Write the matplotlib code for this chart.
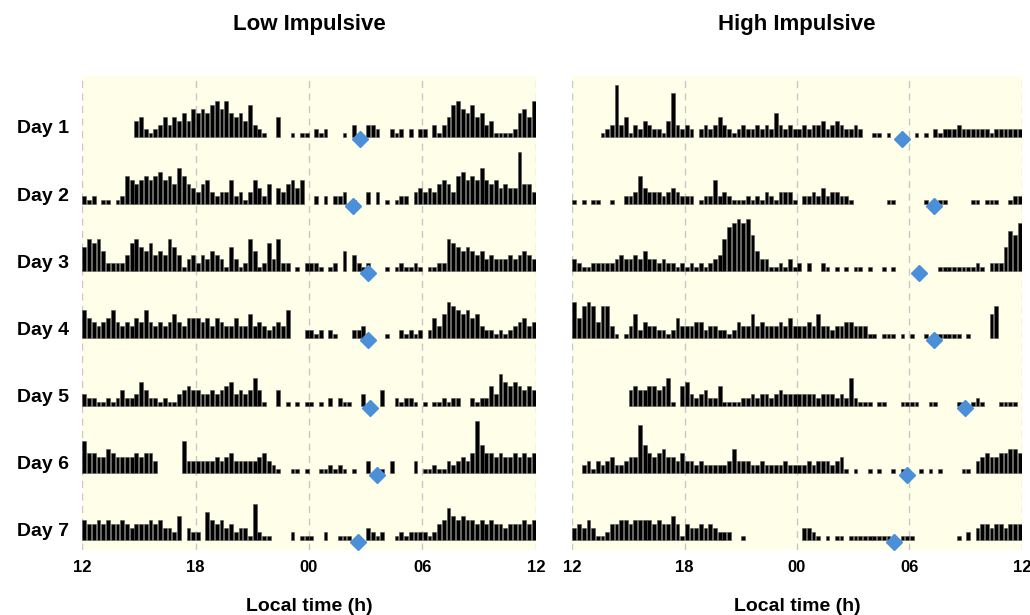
import matplotlib.pyplot as plt
import numpy as np

plt.rcParams['font.family'] = ['Liberation Sans', 'DejaVu Sans']

# --- data ---
# one character per 15-min bin, 96 bins from 12:00 to 12:00 (base-36 height, 1 unit ~ 4 px)
DAYS = ['Day 1', 'Day 2', 'Day 3', 'Day 4', 'Day 5', 'Day 6', 'Day 7']
TICK_POS = [0, 6, 12, 18, 24]
TICK_LABELS = ['12', '18', '00', '06', '12']

LOW_ACTIVITY = [
    "000000000004521235354647" "676897965648321005001011" "021200010300332002120202" "203135897685634111126759",
    "212011012765676786759754" "356323362313642504356460" "020202230100303010122034" "34356537867696564544d553",
    "687852222478657454864134" "243543163128512738220102" "221012050421200010121121" "011228765654534333434543",
    "754345743435474343464355" "545354335336343234370002" "212021000223100010021212" "025369876756322121234534",
    "322112124223642212113454" "433434563434741004010101" "101020211003000400212210" "101121220021225386565454",
    "855446544445455300000833" "333343453333345321001101" "001121210100300103000030" "11211323435d755454454545",
    "544545445434445453326032" "207545342331921100002011" "100200111000321200121222" "212458656554545443444545",
]
LOW_ONSET = [14.69, 14.30, 15.10, 15.13, 15.22, 15.57, 14.60]

HIGH_ACTIVITY = [
    "000000123d35132432214b32" "320232353212322323263232" "232334234322320011010000" "010102122232222221222222",
    "101011001002237433323432" "220122623211121213213331" "022324233221000000011000" "000100110000011011100122",
    "321122222343343533232212" "121212348bcdcd9533112131" "202002101010110100101000" "000000111111112102226a9c",
    "958984883101362433221253" "334423322124336343334353" "334363323344333110111010" "100101111110100006800000",
    "000000000000454455457105" "632342251111223233234333" "333323332327211101100011" "110011000011012100011110",
    "00231323422344c754564435" "332322222363332232222322" "223233323410100101001010" "001010100001103454455665",
    "343531124455455554544641" "433434322200100000000000" "033210101101111111110011" "100000000010203443443444",
]
HIGH_ONSET = [17.58, 19.32, 18.52, 19.32, 20.96, 17.85, 17.19]

ROW_GAP = 67.2
UNIT = 4.0


def draw_panel(ax, activity, onset, title, show_days):
    ax.set_facecolor('#FEFEE9')
    for d, row in enumerate(activity):
        base = (6 - d) * ROW_GAP + 10
        h = np.array([int(c, 36) for c in row]) * UNIT
        x = (np.arange(len(h)) + 0.5) * 0.25
        m = h > 0
        ax.bar(x[m], h[m], width=0.2, bottom=base, color='black',
               edgecolor='#555555', linewidth=0.4)
        ax.plot(onset[d], base - 2, 'D', color='#4A8FD8', markersize=8, zorder=5)
        if show_days:
            ax.text(-0.087, base + 8, DAYS[d], transform=ax.get_yaxis_transform(),
                    ha='center', va='center', fontsize=14, fontweight='bold')
    for t in TICK_POS:
        ax.axvline(t, color='#C8C8C8', linestyle=(0, (5, 4)), linewidth=1, zorder=0)
    ax.set_xlim(0, 24)
    ax.set_ylim(0, 474)
    ax.set_xticks(TICK_POS)
    ax.set_xticklabels(TICK_LABELS, fontsize=12, fontweight='bold')
    ax.tick_params(axis='x', length=0, pad=7)
    ax.set_yticks([])
    for s in ax.spines.values():
        s.set_visible(False)
    ax.set_xlabel('Local time (h)', fontsize=14, fontweight='bold', labelpad=17)
    ax.set_title(title, fontsize=16, fontweight='bold', pad=33)


fig = plt.figure(figsize=(10.3, 6.15), dpi=100)
ax1 = fig.add_axes([82 / 1030, 65 / 615, 454 / 1030, 474 / 615])
ax2 = fig.add_axes([572 / 1030, 65 / 615, 450 / 1030, 474 / 615])

draw_panel(ax1, LOW_ACTIVITY, LOW_ONSET, 'Low Impulsive', True)
draw_panel(ax2, HIGH_ACTIVITY, HIGH_ONSET, 'High Impulsive', False)

fig.savefig('out.png', dpi=100)
